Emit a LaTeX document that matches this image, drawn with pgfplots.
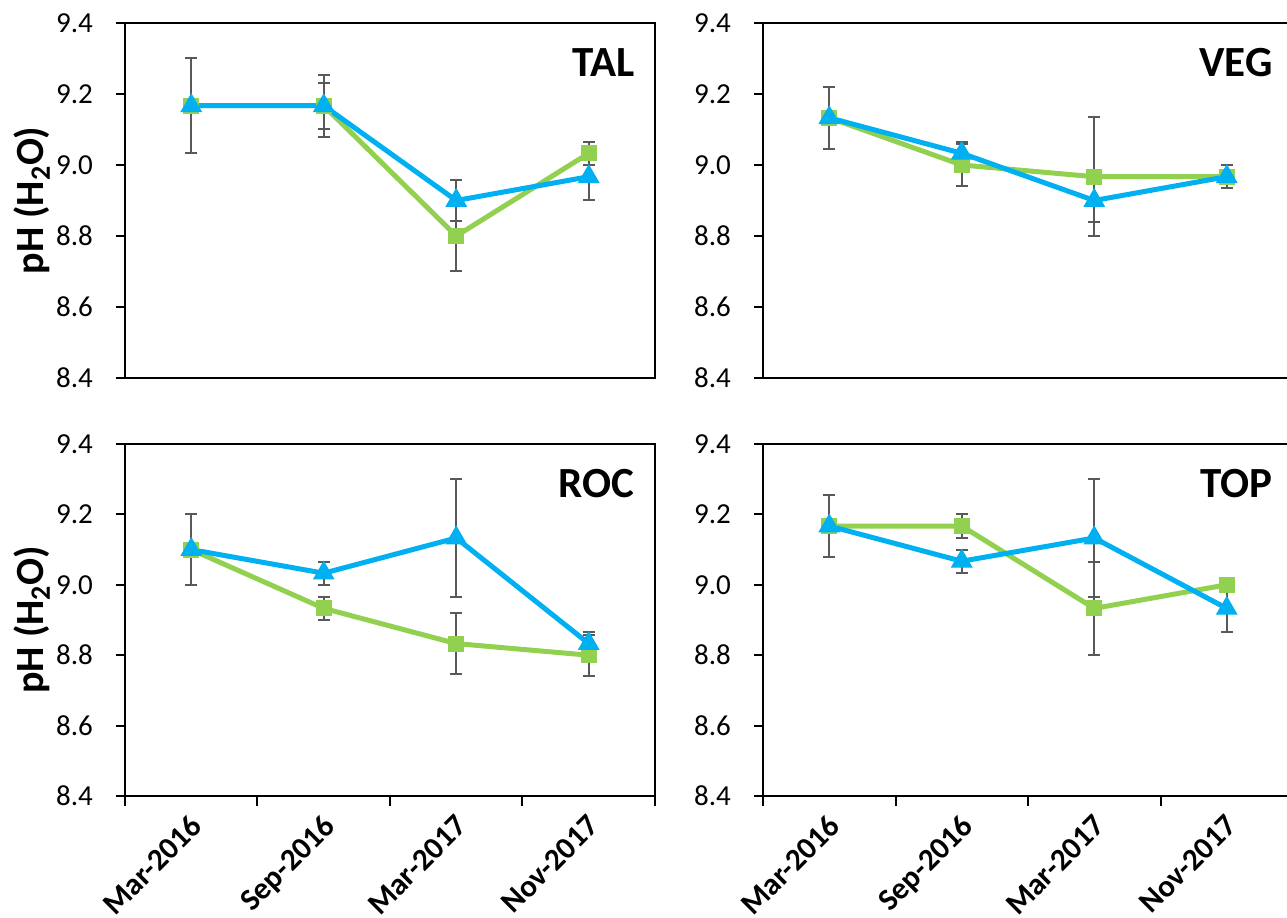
\documentclass[border=0pt]{standalone}
\usepackage{pgfplots}
\usepackage{pgfplotstable}
\pgfplotsset{compat=1.18}
\usepackage{fontspec}
\setmainfont{Carlito}
\definecolor{sgreen}{RGB}{146,208,80}
\definecolor{sblue}{RGB}{0,176,240}
\definecolor{errgray}{RGB}{89,89,89}

\pgfplotstableread{
x g ge b be
1 9.167 0.133 9.167 0.133
2 9.167 0.087 9.167 0.065
3 8.800 0.100 8.900 0.058
4 9.033 0.033 8.967 0.067
}\TAL
\pgfplotstableread{
x g ge b be
1 9.133 0.087 9.133 0.087
2 9.000 0.058 9.033 0.033
3 8.967 0.167 8.900 0.060
4 8.967 0.033 8.967 0.033
}\VEG
\pgfplotstableread{
x g ge b be
1 9.100 0.100 9.100 0.100
2 8.933 0.033 9.033 0.033
3 8.833 0.087 9.133 0.167
4 8.800 0.058 8.833 0.033
}\ROC
\pgfplotstableread{
x g ge b be
1 9.167 0.087 9.167 0.087
2 9.167 0.033 9.067 0.033
3 8.933 0.133 9.133 0.167
4 9.000 0.000 8.933 0.067
}\TOP

\tikzset{plabel/.style={anchor=north east, inner sep=0pt, font=\bfseries\fontsize{21.5}{24}\selectfont, xshift=-10pt, yshift=-12.5pt}}

\pgfplotsset{
  panel/.style={
    scale only axis, width=265pt,
    xmin=0.5, xmax=4.5, ymin=8.4, ymax=9.4,
    ytick={8.4,8.6,8.8,9.0,9.2,9.4},
    axis line style={line width=1pt, black},
    every tick/.style={line width=1pt, black},
    tick align=outside, tick pos=left,
    major tick length=4.5pt, minor tick length=5pt,
    yticklabel style={xshift=-8pt, font=\fontsize{14.5}{17}\selectfont, /pgf/number format/.cd, fixed, fixed zerofill, precision=1, assume math mode=true},
    clip=false,
  },
  toppanel/.style={panel, height=177.5pt, xtick=\empty},
  botpanel/.style={panel, height=176pt,
    xtick={1,2,3,4}, xticklabels={Mar-2016,Sep-2016,Mar-2017,Nov-2017},
    minor xtick={0.5,1.5,2.5,3.5,4.5},
    major x tick style={draw=none},
    xticklabel style={rotate=45, anchor=north east, inner sep=1pt, yshift=-1pt, xshift=-2.5pt, font=\bfseries\fontsize{15.5}{18}\selectfont},
  },
  ylab/.style={ylabel={\textbf{pH (H\textsubscript{2}O)}},
    ylabel style={at={(axis description cs:-0.1755,0.5)}, anchor=center, font=\fontsize{20}{23}\selectfont}},
  ebars/.style={draw=none, mark=none, forget plot,
    error bars/.cd, y dir=both, y explicit,
    error bar style={line width=1pt, draw=errgray, solid},
    error mark options={rotate=90, mark size=2.9pt, line width=1pt, draw=errgray}},
  gline/.style={color=sgreen, line width=2.5pt, mark=square*, mark options={solid, line width=0.5pt, draw=sgreen, fill=sgreen}, mark size=3.75pt},
  bline/.style={color=sblue, line width=2.5pt, mark=triangle*, mark options={solid, line width=0.5pt, draw=sblue, fill=sblue}, mark size=5.8pt},
}

\newcommand\panel[1]{%
  \addplot[ebars] table[x=x, y=g, y error=ge] {#1};
  \addplot[ebars] table[x=x, y=b, y error=be] {#1};
  \addplot[gline] table[x=x, y=g] {#1};
  \addplot[bline] table[x=x, y=b] {#1};
}

\begin{document}
\begin{tikzpicture}
\path[use as bounding box] (0,0) rectangle (643.5pt,458.5pt);
\begin{axis}[toppanel, ylab, at={(62.5pt,269.5pt)}, anchor=south west]
\panel{\TAL}
\node[plabel] at (rel axis cs:1,1) {TAL};
\end{axis}
\begin{axis}[toppanel, at={(381.5pt,269.5pt)}, anchor=south west]
\panel{\VEG}
\node[plabel] at (rel axis cs:1,1) {VEG};
\end{axis}
\begin{axis}[botpanel, ylab, at={(62.5pt,60.5pt)}, anchor=south west]
\panel{\ROC}
\node[plabel] at (rel axis cs:1,1) {ROC};
\end{axis}
\begin{axis}[botpanel, at={(381.5pt,60.5pt)}, anchor=south west]
\panel{\TOP}
\node[plabel] at (rel axis cs:1,1) {TOP};
\end{axis}
\end{tikzpicture}
\end{document}
